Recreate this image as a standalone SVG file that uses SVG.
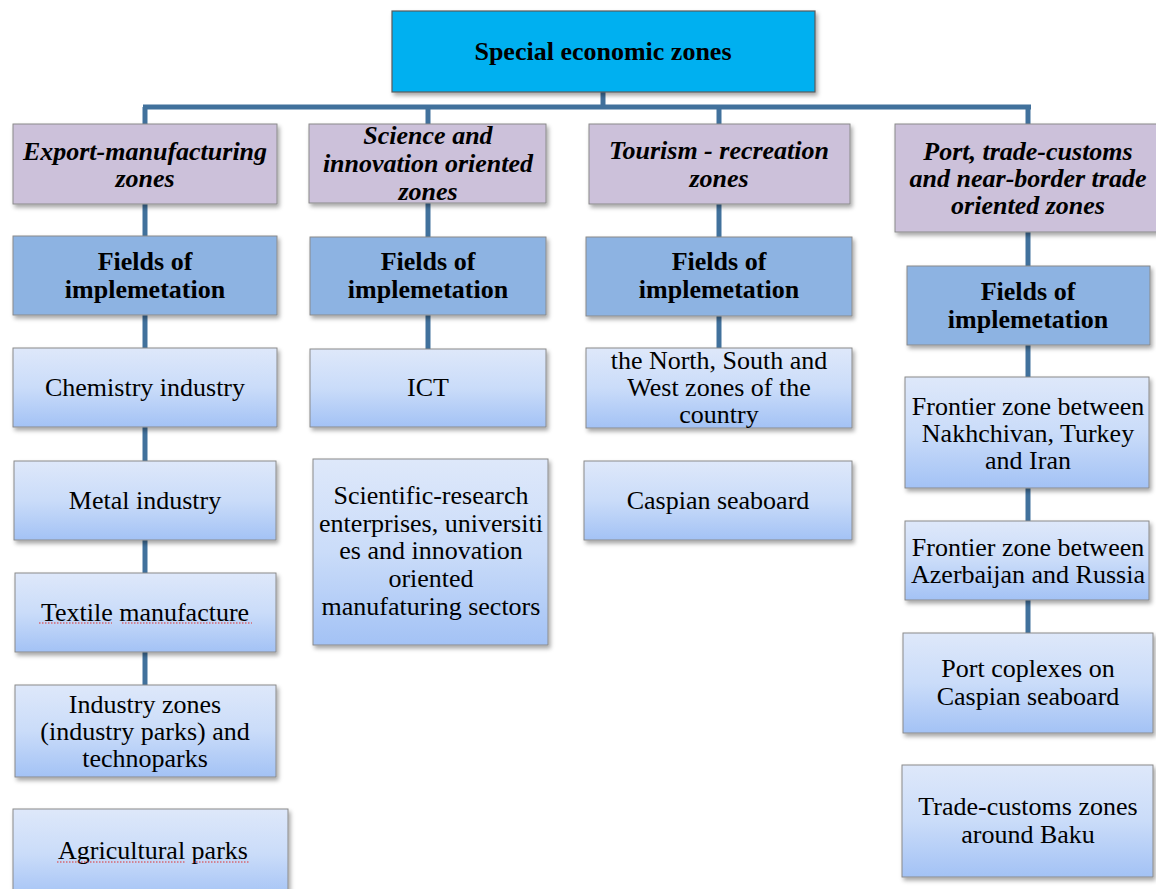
<svg xmlns="http://www.w3.org/2000/svg" width="1156" height="889" viewBox="0 0 1156 889">
<defs>
<linearGradient id="g" x1="0" y1="0" x2="0" y2="1">
<stop offset="0" stop-color="#DEE8FA"/>
<stop offset="0.5" stop-color="#CADCF9"/>
<stop offset="1" stop-color="#A3C2F5"/>
</linearGradient>
<filter id="sh" x="-10%" y="-10%" width="125%" height="130%">
<feDropShadow dx="2" dy="3" stdDeviation="2" flood-color="#000" flood-opacity="0.35"/>
</filter>
</defs>
<style>
.top{fill:#00B0F0;stroke:#5a5a5a;stroke-width:1.2;filter:url(#sh)}
.zone{fill:#CCC1DA;stroke:#8a8a8a;stroke-width:1;filter:url(#sh)}
.field{fill:#8DB3E2;stroke:#8a8a8a;stroke-width:1;filter:url(#sh)}
.item{fill:url(#g);stroke:#8a8a8a;stroke-width:1;filter:url(#sh)}
text{font-family:"Liberation Serif","Times New Roman",serif;font-size:26px;fill:#000;text-anchor:middle}
.b{font-weight:bold}
.bi{font-weight:bold;font-style:italic}
.conn{stroke:#41719C;stroke-width:5;fill:none}
.sq{stroke:#E03030;stroke-width:1.2;stroke-dasharray:1.5 1.5;fill:none}
</style>

<g id="connectors">
<line class="conn" x1="603" y1="92" x2="603" y2="107"/>
<line class="conn" x1="143" y1="107" x2="1031" y2="107"/>
<line class="conn" x1="145" y1="107" x2="145" y2="124"/>
<line class="conn" x1="428" y1="107" x2="428" y2="124"/>
<line class="conn" x1="719" y1="107" x2="719" y2="124"/>
<line class="conn" x1="1028" y1="107" x2="1028" y2="124"/>
<line class="conn" x1="145" y1="204" x2="145" y2="236"/>
<line class="conn" x1="145" y1="315" x2="145" y2="348"/>
<line class="conn" x1="145" y1="427" x2="145" y2="461"/>
<line class="conn" x1="145" y1="540" x2="145" y2="573"/>
<line class="conn" x1="145" y1="652" x2="145" y2="685"/>
<line class="conn" x1="428" y1="203" x2="428" y2="237"/>
<line class="conn" x1="428" y1="315" x2="428" y2="349"/>
<line class="conn" x1="719" y1="204" x2="719" y2="237"/>
<line class="conn" x1="719" y1="316" x2="719" y2="348"/>
<line class="conn" x1="1028" y1="232" x2="1028" y2="266"/>
<line class="conn" x1="1028" y1="345" x2="1028" y2="377"/>
<line class="conn" x1="1028" y1="488" x2="1028" y2="521"/>
<line class="conn" x1="1028" y1="600" x2="1028" y2="633"/>
</g>

<g id="root">
<rect class="top" x="392" y="11" width="423" height="81"/>
<text class="b" x="603" y="60">Special economic zones</text>
</g>

<g id="zone1">
<rect class="zone" x="13" y="124" width="264" height="80"/>
<text class="bi" x="145" y="160">Export-manufacturing</text>
<text class="bi" x="145" y="187">zones</text>
</g>
<g id="fields1">
<rect class="field" x="13" y="236" width="264" height="79"/>
<text class="b" x="145" y="270">Fields of</text>
<text class="b" x="145" y="298">implemetation</text>
</g>
<g id="chem">
<rect class="item" x="13" y="348" width="264" height="79"/>
<text x="145" y="396">Chemistry industry</text>
</g>
<g id="metal">
<rect class="item" x="14" y="461" width="262" height="79"/>
<text x="145" y="509">Metal industry</text>
</g>
<g id="textile">
<rect class="item" x="15" y="573" width="261" height="79"/>
<text x="145" y="621">Textile manufacture</text>
<path class="sq" d="M39 623H112M122 623H252"/>
</g>
<g id="indzones">
<rect class="item" x="15" y="685" width="261" height="92"/>
<text x="145" y="713">Industry zones</text>
<text x="145" y="740">(industry parks) and</text>
<text x="145" y="767">technoparks</text>
</g>
<g id="agri">
<rect class="item" x="13" y="809" width="275" height="90"/>
<text x="153" y="859">Agricultural parks</text>
<path class="sq" d="M57 862H185M193 862H250"/>
</g>

<g id="zone2">
<rect class="zone" x="309" y="124" width="237" height="79"/>
<text class="bi" x="428" y="144">Science and</text>
<text class="bi" x="428" y="172">innovation oriented</text>
<text class="bi" x="428" y="200">zones</text>
</g>
<g id="fields2">
<rect class="field" x="310" y="237" width="236" height="78"/>
<text class="b" x="428" y="270">Fields of</text>
<text class="b" x="428" y="298">implemetation</text>
</g>
<g id="ict">
<rect class="item" x="310" y="349" width="236" height="78"/>
<text x="428" y="396">ICT</text>
</g>
<g id="science">
<rect class="item" x="313" y="459" width="235" height="186"/>
<text x="431" y="504">Scientific-research</text>
<text x="431" y="532">enterprises, universiti</text>
<text x="431" y="559">es and innovation</text>
<text x="431" y="587">oriented</text>
<text x="431" y="615">manufaturing sectors</text>
</g>

<g id="zone3">
<rect class="zone" x="589" y="124" width="261" height="80"/>
<text class="bi" x="719" y="159">Tourism - recreation</text>
<text class="bi" x="719" y="187">zones</text>
</g>
<g id="fields3">
<rect class="field" x="586" y="237" width="266" height="79"/>
<text class="b" x="719" y="270">Fields of</text>
<text class="b" x="719" y="298">implemetation</text>
</g>
<g id="north">
<rect class="item" x="586" y="348" width="266" height="80"/>
<text x="719" y="369">the North, South and</text>
<text x="719" y="396">West zones of the</text>
<text x="719" y="423">country</text>
</g>
<g id="caspian">
<rect class="item" x="584" y="461" width="268" height="79"/>
<text x="718" y="509">Caspian seaboard</text>
</g>

<g id="zone4">
<rect class="zone" x="895" y="124" width="263" height="108"/>
<text class="bi" x="1028" y="160">Port, trade-customs</text>
<text class="bi" x="1028" y="187">and near-border trade</text>
<text class="bi" x="1028" y="214">oriented zones</text>
</g>
<g id="fields4">
<rect class="field" x="907" y="266" width="243" height="79"/>
<text class="b" x="1028" y="300">Fields of</text>
<text class="b" x="1028" y="328">implemetation</text>
</g>
<g id="frontier1">
<rect class="item" x="905" y="377" width="244" height="111"/>
<text x="1028" y="415">Frontier zone between</text>
<text x="1028" y="442">Nakhchivan, Turkey</text>
<text x="1028" y="469">and Iran</text>
</g>
<g id="frontier2">
<rect class="item" x="905" y="521" width="244" height="79"/>
<text x="1028" y="556">Frontier zone between</text>
<text x="1028" y="583">Azerbaijan and Russia</text>
</g>
<g id="port">
<rect class="item" x="903" y="633" width="250" height="100"/>
<text x="1028" y="677">Port coplexes on</text>
<text x="1028" y="705">Caspian seaboard</text>
</g>
<g id="trade">
<rect class="item" x="902" y="765" width="251" height="112"/>
<text x="1028" y="815">Trade-customs zones</text>
<text x="1028" y="843">around Baku</text>
</g>
</svg>
